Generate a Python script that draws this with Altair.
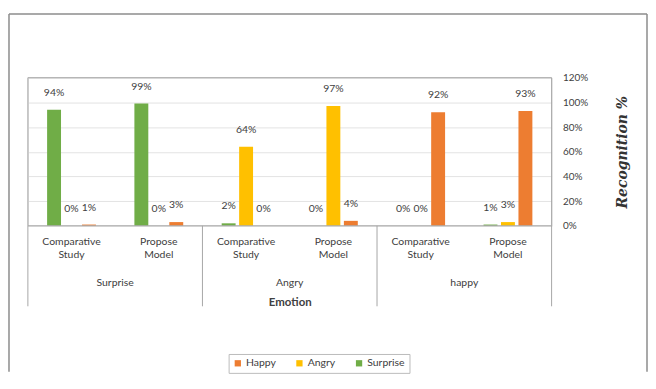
import altair as alt
import pandas as pd

emotions = ["Surprise", "Angry", "happy"]
methods = ["Comparative Study", "Propose Model"]
series = ["Surprise", "Angry", "Happy"]
legend_order = ["Happy", "Angry", "Surprise"]
colors = ["#ED7D31", "#FFC000", "#70AD47"]

surprise_vals = [0.94, 0.99, 0.02, 0.00, 0.00, 0.01]
angry_vals = [0.00, 0.00, 0.64, 0.97, 0.00, 0.03]
happy_vals = [0.01, 0.03, 0.00, 0.04, 0.92, 0.93]
y_ticks = [0, 0.2, 0.4, 0.6, 0.8, 1.0, 1.2]

W, H = 527, 149

groups = [f"{e}|{m}" for e in emotions for m in methods]
vals = {"Surprise": surprise_vals, "Angry": angry_vals, "Happy": happy_vals}
rows = []
for s in series:
    for g, v in zip(groups, vals[s]):
        rows.append({"group": g, "series": s, "value": v})
df = pd.DataFrame(rows)

xscale = alt.Scale(domain=groups, paddingInner=0, paddingOuter=0)
x_enc = alt.X(
    "group:N", scale=xscale, sort=groups,
    axis=alt.Axis(
        title="Emotion", labelAngle=0, labelExpr="split(split(datum.label, '|')[1], ' ')",
        labelFont="Lato", labelFontSize=10.5, labelColor="#404040", labelPadding=11,
        labelLineHeight=13, ticks=False, domain=False, labelBaseline="top",
        titleFont="Lato", titleFontSize=11.5, titleFontWeight="bold", titleColor="#404040",
        titlePadding=37,
    ),
)
xoff = alt.XOffset("series:N", sort=series,
                   scale=alt.Scale(paddingInner=0, paddingOuter=1))
y_enc = alt.Y(
    "value:Q", scale=alt.Scale(domain=[0, 1.2], nice=False),
    axis=alt.Axis(
        orient="right", format="%", values=y_ticks, tickCount=7, ticks=False, domain=False,
        labelFont="Lato", labelFontSize=10, labelColor="#404040", labelPadding=11,
        labelAlign="left", labelOverlap=False, gridColor="#E3E3E3",
        title="Recognition %", titleFont="DejaVu Serif", titleFontStyle="italic",
        titleFontWeight="bold", titleFontSize=14, titleAngle=270, titlePadding=42,
        titleColor="#333333",
    ),
)
color_enc = alt.Color(
    "series:N", scale=alt.Scale(domain=legend_order, range=colors),
    legend=alt.Legend(
        title=None, orient="none", direction="horizontal", legendX=202, legendY=278,
        symbolType="square", symbolSize=40, symbolStrokeWidth=0,
        labelFont="Lato", labelFontSize=10.5, labelColor="#404040",
        strokeColor="#BBBBBB", padding=4, columnPadding=18, labelOffset=3,
    ),
)

bars = alt.Chart(df).mark_bar(width=14).encode(x=x_enc, xOffset=xoff, y=y_enc, color=color_enc)
labels = alt.Chart(df).mark_text(
    font="Lato", fontSize=10.5, color="#404040", dy=-17
).encode(x=x_enc, xOffset=xoff, y=y_enc,
         text=alt.Text("value:Q", format=".0%"))

# separators below the plot
sep_df = pd.DataFrame({"group": [f"{e}|{methods[0]}" for e in emotions]})
seps = alt.Chart(sep_df).mark_rule(color="#A6A6A6").encode(
    x=alt.X("group:N", sort=groups, bandPosition=0), y=alt.value(H), y2=alt.value(H + 81))
end_df = pd.DataFrame({"group": [groups[-1]]})
sep_end = alt.Chart(end_df).mark_rule(color="#A6A6A6").encode(
    x=alt.X("group:N", sort=groups, bandPosition=1), y=alt.value(0), y2=alt.value(H + 81))
start_df = pd.DataFrame({"group": [groups[0]]})
sep_start = alt.Chart(start_df).mark_rule(color="#A6A6A6").encode(
    x=alt.X("group:N", sort=groups, bandPosition=0), y=alt.value(0), y2=alt.value(H))
# horizontal lines at plot bottom and top
base_df = pd.DataFrame({"a": [0]})
baseline = alt.Chart(base_df).mark_rule(color="#A6A6A6").encode(
    x=alt.value(0), x2=alt.value(W), y=alt.value(H))
topline = alt.Chart(base_df).mark_rule(color="#A6A6A6").encode(
    x=alt.value(0), x2=alt.value(W), y=alt.value(0))

emo_df = pd.DataFrame({"group": [f"{e}|{methods[1]}" for e in emotions], "emotion": emotions})
emo_text = alt.Chart(emo_df).mark_text(
    font="Lato", fontSize=10.5, color="#404040"
).encode(x=alt.X("group:N", sort=groups, bandPosition=0), y=alt.value(H + 58), text="emotion:N")

# outer chart border
border_l = alt.Chart(base_df).mark_rule(color="#8C8C8C", strokeWidth=1.5).encode(
    x=alt.value(-19), y=alt.value(-64), y2=alt.value(H + 147))
border_r = alt.Chart(base_df).mark_rule(color="#8C8C8C", strokeWidth=1.5).encode(
    x=alt.value(W + 96), y=alt.value(-64), y2=alt.value(H + 147))
border_t = alt.Chart(base_df).mark_rule(color="#8C8C8C", strokeWidth=1.5).encode(
    x=alt.value(-19), x2=alt.value(W + 96), y=alt.value(-64))

chart = alt.layer(
    border_l, border_r, border_t, bars, labels, seps, sep_start, sep_end, baseline, topline, emo_text
).properties(
    width=W, height=H, padding={"left": 0, "top": 4, "right": 0, "bottom": 0}
).configure_view(stroke=None).configure(background="white")

chart.save("out.html", embed_options={"renderer": "svg", "actions": False})
